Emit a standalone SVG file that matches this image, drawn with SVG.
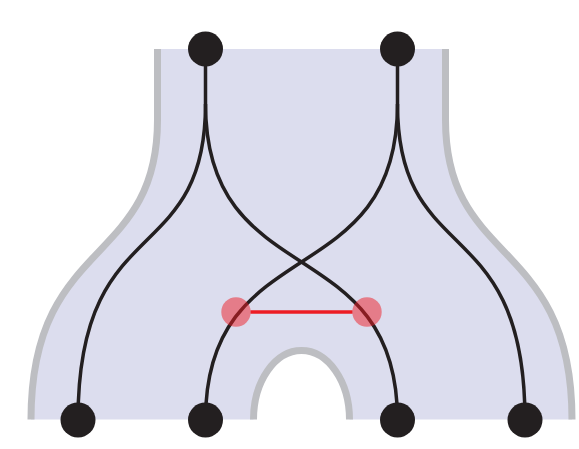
<svg xmlns="http://www.w3.org/2000/svg" width="579" height="449" viewBox="0 0 579 449">
  <style>
    .region { fill: #DCDDEE; stroke: none; }
    .border { fill: none; stroke: #BDBEC2; stroke-width: 7; }
    .strand { fill: none; stroke: #231F20; stroke-width: 3.5; }
    .node { fill: #231F20; }
    .link { stroke: #ED1C24; stroke-width: 3.5; }
    .mark { fill: #ED1C24; fill-opacity: 0.5; }
  </style>
  <g id="surface">
    <path class="region" d="M157.5,49 H445.5 V120 C445.5,267.5 572,236.5 572,419.5 H349.5 A48,69 0 0 0 253.5,419.5 H31 C31,236.5 157.5,267.5 157.5,120 Z"/>
    <path class="border" d="M157.5,49 V120 C157.5,267.5 31,236.5 31,419.5"/>
    <path class="border" d="M445.5,49 V120 C445.5,267.5 572,236.5 572,419.5"/>
    <path class="border" d="M253.5,419.5 A48,69 0 0 1 349.5,419.5"/>
  </g>
  <g id="connectors">
    <path class="strand" d="M205.5,49 V104"/>
    <path class="strand" d="M397.5,49 V104"/>
    <path class="strand" d="M205.5,104 C205.5,270 78,209 78,420"/>
    <path class="strand" d="M205.5,104 C205.5,295 397.5,229 397.5,420"/>
    <path class="strand" d="M397.5,104 C397.5,295 205.5,229 205.5,420"/>
    <path class="strand" d="M397.5,104 C397.5,270 525,209 525,420"/>
    <line class="link" x1="250.5" y1="312" x2="352.5" y2="312"/>
  </g>
  <g id="top-left"><circle class="node" cx="205.5" cy="49" r="17.5"/></g>
  <g id="top-right"><circle class="node" cx="397.5" cy="49" r="17.5"/></g>
  <g id="bottom-1"><circle class="node" cx="78" cy="420" r="17.5"/></g>
  <g id="bottom-2"><circle class="node" cx="205.5" cy="420" r="17.5"/></g>
  <g id="bottom-3"><circle class="node" cx="397.5" cy="420" r="17.5"/></g>
  <g id="bottom-4"><circle class="node" cx="525" cy="420" r="17.5"/></g>
  <g id="mark-left"><circle class="mark" cx="236" cy="312" r="14.7"/></g>
  <g id="mark-right"><circle class="mark" cx="367" cy="312" r="14.7"/></g>
</svg>
